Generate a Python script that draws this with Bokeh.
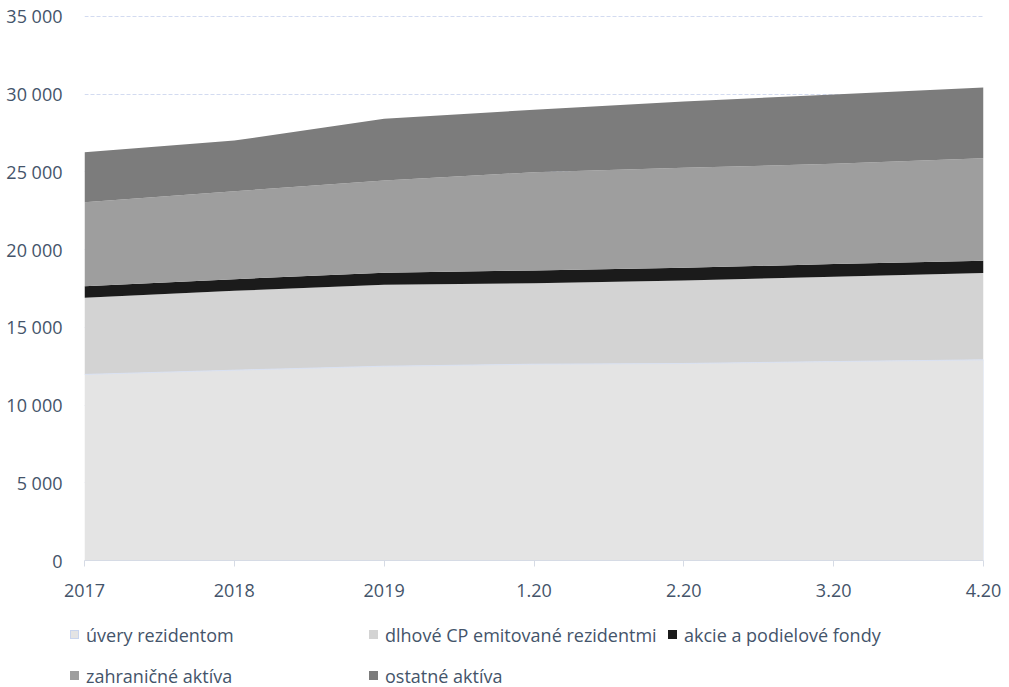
from bokeh.plotting import figure
from bokeh.layouts import column
from bokeh.models import ColumnDataSource, Range1d, FixedTicker, CustomJSTickFormatter, Div
from bokeh.embed import file_html
from bokeh.resources import INLINE

# ---- data ----
periods = ["2017", "2018", "2019", "1.20", "2.20", "3.20", "4.20"]
uvery = [11970, 12245, 12500, 12630, 12675, 12800, 12910]
dlhove = [4930, 5105, 5240, 5210, 5340, 5450, 5580]
akcie = [750, 750, 770, 820, 815, 820, 790]
zahranicne = [5400, 5660, 5940, 6320, 6435, 6450, 6600]
ostatne = [3220, 3260, 3970, 4020, 4265, 4460, 4550]
y_ticks = [0, 5000, 10000, 15000, 20000, 25000, 30000, 35000]

series_names = ["úvery rezidentom", "dlhové CP emitované rezidentmi", "akcie a podielové fondy",
                "zahraničné aktíva", "ostatné aktíva"]
colors = ["#e4e4e4", "#d3d3d3", "#1b1b1b", "#9e9e9e", "#7c7c7c"]
swatch_lines = ["#c9d5ee", None, None, None, None]

xs = list(range(len(periods)))
keys = ["uvery", "dlhove", "akcie", "zahranicne", "ostatne"]
src = ColumnDataSource(dict(x=xs, uvery=uvery, dlhove=dlhove, akcie=akcie,
                            zahranicne=zahranicne, ostatne=ostatne))

FONT = "Open Sans"
TXT = "#44546A"
FRAME_L, FRAME_W = 84, 899

p = figure(frame_width=FRAME_W, frame_height=547, output_backend="svg", toolbar_location=None,
           x_range=Range1d(0, len(periods) - 1), y_range=Range1d(0, 35193),
           min_border_left=FRAME_L, min_border_right=26, min_border_top=13, min_border_bottom=50)
p.outline_line_color = None
p.background_fill_color = "white"

# grid
p.xgrid.grid_line_color = None
p.ygrid.ticker = FixedTicker(ticks=y_ticks)
p.ygrid.grid_line_color = "#d3dbf0"
p.ygrid.grid_line_dash = "4 2"
p.ygrid.grid_line_width = 1

areas = p.varea_stack(keys, x="x", source=src, color=colors)
# light outline of the bottom series
p.line(x="x", y="uvery", source=src, line_color="#d9e1f2", line_width=1)
p.segment(x0=[xs[-1]], y0=[0], x1=[xs[-1]], y1=[uvery[-1]], line_color="#d9e1f2", line_width=1)

# axes
xa = p.xaxis[0]
xa.ticker = FixedTicker(ticks=xs)
xa.major_label_overrides = {i: lab for i, lab in enumerate(periods)}
xa.axis_line_color = "#d6dbe5"
xa.major_tick_line_color = "#d6dbe5"
xa.major_tick_out = 6
xa.major_tick_in = 0
xa.minor_tick_line_color = None
xa.major_label_text_font = FONT
xa.major_label_text_font_size = "18px"
xa.major_label_text_color = TXT
xa.major_label_standoff = 17

ya = p.yaxis[0]
ya.ticker = FixedTicker(ticks=y_ticks)
ya.formatter = CustomJSTickFormatter(code="return Math.round(tick).toString().replace(/\\B(?=(\\d{3})+(?!\\d))/g, ' ');")
ya.axis_line_color = None
ya.major_tick_line_color = None
ya.minor_tick_line_color = None
ya.major_label_text_font = FONT
ya.major_label_text_font_size = "18px"
ya.major_label_text_color = TXT
ya.major_label_standoff = 16

# ---- legend: an HTML strip below the plot (real text) ----
LEG_H = 77
col_x0, col_step, row_y0, row_step, per_row, sw = 70, 299, 25, 41, 3, 11
parts = []
for i, (name, fill, ln) in enumerate(zip(series_names, colors, swatch_lines)):
    lx = col_x0 + col_step * (i % per_row)
    cy = row_y0 + row_step * (i // per_row)
    border = f"1px solid {ln}" if ln else f"1px solid {fill}"
    parts.append(
        f'<div style="position:absolute;left:{lx}px;top:{cy - sw / 2}px;width:{sw - 2}px;'
        f'height:{sw - 2}px;background:{fill};border:{border};"></div>'
        f'<div style="position:absolute;left:{lx + sw + 5}px;top:{cy - 12}px;height:24px;'
        f'line-height:24px;white-space:nowrap;">{name}</div>')
html = (f'<div style="position:relative;width:1009px;height:{LEG_H}px;font-family:\'{FONT}\';'
        f'font-size:18px;color:{TXT};">' + "".join(parts) + '</div>')
lg = Div(text=html, width=1009, height=LEG_H, margin=0)

layout = column(p, lg, spacing=0)
open("out.html", "w").write(file_html(layout, INLINE))
